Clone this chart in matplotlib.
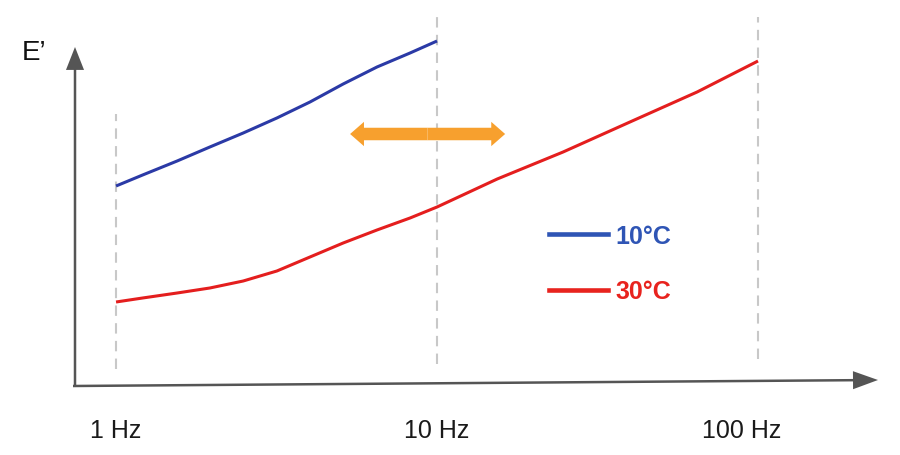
import matplotlib
matplotlib.use("Agg")
import matplotlib.pyplot as plt
from matplotlib.patches import FancyArrowPatch
from matplotlib.lines import Line2D

plt.rcParams['font.family'] = ['Liberation Sans', 'DejaVu Sans']

# data (frequency in Hz, E' in arbitrary units)
freq_10c = [1, 1.21, 1.55, 1.96, 2.49, 3.17, 4.02, 5.10, 6.50, 8.24, 10]
e_10c = [269, 280, 294, 308, 322, 337, 353, 371, 388, 402, 414]
freq_30c = [1, 1.21, 1.55, 1.96, 2.49, 3.17, 4.02, 5.10, 6.50, 8.24, 10,
            15.4, 24.7, 39.9, 64.6, 100]
e_30c = [153, 157, 162, 167, 174, 184, 198, 212, 225, 237, 248,
         276, 303, 333, 363, 394]
tick_freqs = [1, 10, 100]
tick_labels = ['1 Hz', '10 Hz', '100 Hz']
series_labels = ['10°C', '30°C']

blue_line = '#2B3AA6'
red_line = '#E41E1E'
blue_leg = '#2F55B5'
red_leg = '#E8231E'
grey = '#555555'

fig = plt.figure(figsize=(9, 4.56), dpi=100)
ax = fig.add_axes([0, 0, 1, 1])
ax.set_xscale('log')
ax.set_xlim(0.435, 276.9)
ax.set_ylim(0, 456)
ax.axis('off')

# dashed guides
dash_ranges = [(86, 341), (91, 441), (96, 438)]
for f, (y0, y1) in zip(tick_freqs, dash_ranges):
    ax.plot([f, f], [y0, y1], color='#C8C8C8', lw=1.5, dashes=(5, 3.5), zorder=1)

# curves
ax.plot(freq_10c, e_10c, color=blue_line, lw=2.2, solid_capstyle='butt',
        solid_joinstyle='round', zorder=3)
ax.plot(freq_30c, e_30c, color=red_line, lw=2.2, solid_capstyle='butt',
        solid_joinstyle='round', zorder=3)

# axes arrows
ya = FancyArrowPatch((75/900, 1-387/456), (75/900, 1-48/456), transform=ax.transAxes,
                     arrowstyle='simple,head_length=1.65,head_width=1.3,tail_width=0.18',
                     mutation_scale=10, color=grey, lw=0, shrinkA=0, shrinkB=0)
xa = FancyArrowPatch((73/900, 1-387/456), (878/900, 1-381/456), transform=ax.transAxes,
                     arrowstyle='simple,head_length=1.8,head_width=1.3,tail_width=0.18',
                     mutation_scale=10, color=grey, lw=0, shrinkA=0, shrinkB=0)
ax.add_patch(ya)
ax.add_patch(xa)

# orange double arrow (shift)
arrow_y = 321
for end in (5.36, 16.3):
    p = FancyArrowPatch((9.34, arrow_y), (end, arrow_y),
                        arrowstyle='simple,head_length=1.0,head_width=1.75,tail_width=0.9',
                        mutation_scale=10, color='#F7A02E', lw=0, shrinkA=0, shrinkB=0, zorder=4)
    ax.add_patch(p)

# labels
ax.text(22/900, 1-60/456, 'E’', transform=ax.transAxes, fontsize=20, ha='left',
        va='baseline', color='#111111')
offsets = [0, 0, -12]
for f, lab, off in zip(tick_freqs, tick_labels, offsets):
    ax.annotate(lab, xy=(f, 18), xytext=(off, 0), textcoords='offset points',
                ha='center', va='baseline', fontsize=18, color='#1a1a1a')

# legend
handles = [Line2D([], [], color=blue_leg, lw=3.3), Line2D([], [], color=red_leg, lw=3.3)]
leg = ax.legend(handles, series_labels, loc='upper left', bbox_to_anchor=(549/900, 1-225/456),
                frameon=False, borderpad=0, borderaxespad=0, handlelength=2.35,
                handletextpad=0.3, labelspacing=1.25,
                prop={'size': 18, 'weight': 'bold'})
for t, c in zip(leg.get_texts(), [blue_leg, red_leg]):
    t.set_color(c)

fig.savefig('out.png', dpi=100)
